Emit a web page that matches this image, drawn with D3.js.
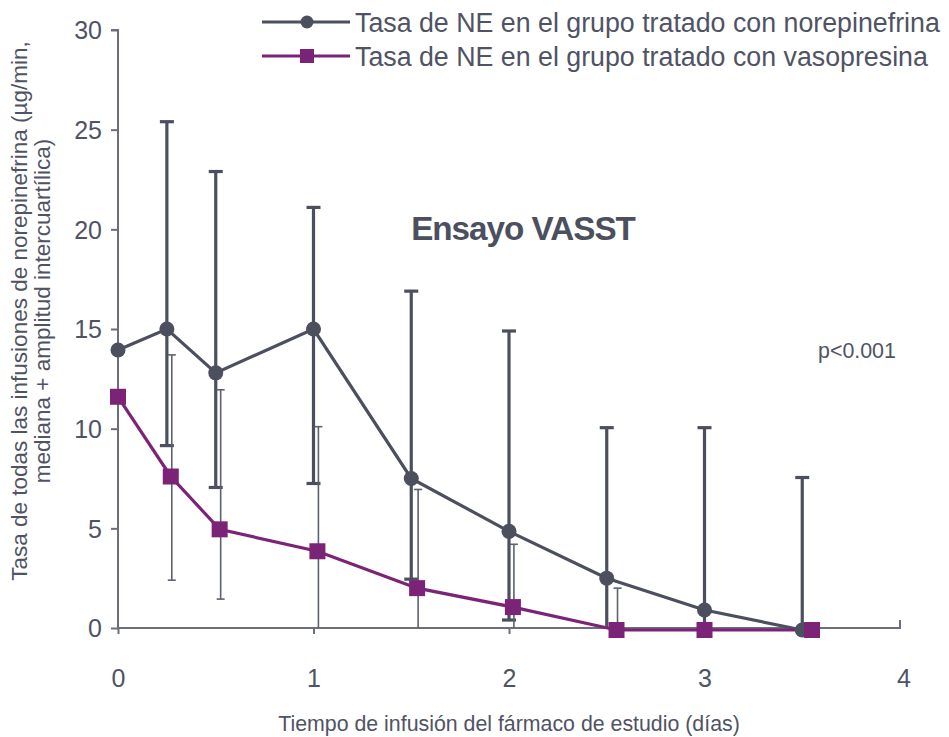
<!DOCTYPE html>
<html>
<head>
<meta charset="utf-8">
<script src="https://cdn.jsdelivr.net/npm/d3@7"></script>
<style>
  html, body { margin: 0; padding: 0; background: #fff; }
  svg { display: block; font-family: "Liberation Sans", Arial, Helvetica, sans-serif; }
</style>
</head>
<body>
<svg id="chart" width="949" height="737"></svg>
<script>
// ---- data ----
const seriesNames = ["Tasa de NE en el grupo tratado con norepinefrina", "Tasa de NE en el grupo tratado con vasopresina"];
const neDays   = [0, 0.25, 0.5, 1, 1.5, 2, 2.5, 3, 3.5];
const neMedian = [13.95, 15.0, 12.8, 15.0, 7.5, 4.85, 2.5, 0.9, -0.1];
const neQ1     = [null, 9.15, 7.05, 7.25, 2.45, 0.4, 0, 0, 0];
const neQ3     = [null, 25.4, 22.9, 21.1, 16.9, 14.9, 10.05, 10.05, 7.55];
const vaDays   = [0, 0.27, 0.52, 1.02, 1.53, 2.02, 2.55, 3.0, 3.55];
const vaMedian = [11.6, 7.6, 4.95, 3.85, 2.0, 1.05, -0.1, -0.1, -0.1];
const vaQ1     = [null, 2.4, 1.45, 0, 0, 0, 0, null, null];
const vaQ3     = [null, 13.7, 11.95, 10.1, 6.95, 4.2, 2.0, null, null];
const yTicks = [0, 5, 10, 15, 20, 25, 30];
const xTicks = [0, 1, 2, 3, 4];
const yTitle = ["Tasa de todas las infusiones de norepinefrina (µg/min,", "mediana + amplitud intercuartílica)"];
const xTitle = "Tiempo de infusión del fármaco de estudio (días)";
const chartTitle = "Ensayo VASST";
const pText = "p<0.001";

// ---- styles ----
const dark = "#4b4f5e", purple = "#7b2477", axisCol = "#6c6f7b", textCol = "#4f5364";

const svg = d3.select("#chart");
const x = d3.scaleLinear().domain([0, 4]).range([118, 900]);
const y = d3.scaleLinear().domain([0, 30]).range([628, 30]);

// fit a text element's font-size to a target width
function fit(sel, width, base) {
  sel.style("font-size", base + "px");
  const w = sel.node().getComputedTextLength();
  const fs = base * width / w;
  sel.style("font-size", fs + "px");
  return fs;
}

// axes
const yAxis = d3.axisLeft(y).tickValues(yTicks).tickSize(7).tickPadding(9);
const gy = svg.append("g").attr("transform", `translate(${x(0)},0)`).call(yAxis);
gy.select(".domain").attr("stroke", axisCol).attr("stroke-width", 2).attr("d", `M-7,${y(30)}H0V${y(0)}`);
gy.selectAll(".tick line").attr("stroke", axisCol).attr("stroke-width", 2);
gy.selectAll(".tick text").attr("fill", textCol).style("font-size", "25px").attr("dy", "0.35em");

const xAxis = d3.axisBottom(x).tickValues(xTicks.slice(0, 4)).tickSize(6).tickPadding(35).tickFormat(d3.format("d"));
const gx = svg.append("g").attr("transform", `translate(0,${y(0)})`).call(xAxis);
gx.select(".domain").attr("stroke", axisCol).attr("stroke-width", 2).attr("d", `M${x(0)},0H${x(4)}V-8`);
gx.selectAll(".tick line").attr("stroke", axisCol).attr("stroke-width", 2);
gx.selectAll(".tick text").attr("fill", textCol).style("font-size", "25px");
gx.append("text").attr("x", x(4) + 4).attr("y", 41).attr("dy", "0.71em").attr("text-anchor", "middle")
  .attr("fill", textCol).style("font-size", "25px").text(d3.format("d")(xTicks[4]));

// error bars
function errorBars(days, q1, q3, dx, width, cap, col) {
  const g = svg.append("g");
  days.forEach((d, i) => {
    if (q1[i] == null || q3[i] == null) return;
    const cx = x(d) + dx;
    g.append("line").attr("x1", cx).attr("x2", cx).attr("y1", y(q1[i])).attr("y2", y(q3[i]))
      .attr("stroke", col).attr("stroke-width", width);
    g.append("line").attr("x1", cx - cap).attr("x2", cx + cap).attr("y1", y(q3[i])).attr("y2", y(q3[i]))
      .attr("stroke", col).attr("stroke-width", width);
    if (q1[i] > 0.05)
      g.append("line").attr("x1", cx - cap).attr("x2", cx + cap).attr("y1", y(q1[i])).attr("y2", y(q1[i]))
        .attr("stroke", col).attr("stroke-width", width);
  });
}
errorBars(neDays, neQ1, neQ3, 0, 3.2, 7, dark);
errorBars(vaDays, vaQ1, vaQ3, 1, 1.6, 4, "#5d6170");

// lines
const lineNE = d3.line().x((d, i) => x(neDays[i])).y(d => y(d));
const lineVA = d3.line().x((d, i) => x(vaDays[i])).y(d => y(d));
svg.append("path").attr("d", lineNE(neMedian)).attr("fill", "none").attr("stroke", dark).attr("stroke-width", 3.2);
svg.append("path").attr("d", lineVA(vaMedian)).attr("fill", "none").attr("stroke", purple).attr("stroke-width", 3.2);

// markers
svg.append("g").selectAll("circle").data(neMedian).join("circle")
  .attr("cx", (d, i) => x(neDays[i])).attr("cy", d => y(d)).attr("r", 7.5).attr("fill", dark);
svg.append("g").selectAll("rect").data(vaMedian).join("rect")
  .attr("x", (d, i) => x(vaDays[i]) - 8).attr("y", d => y(d) - 8).attr("width", 16).attr("height", 16).attr("fill", purple);

// legend
const leg = svg.append("g");
let legFs = 22;
[[dark, "circle"], [purple, "rect"]].forEach(([col, shape], i) => {
  const ly = 22 + i * 34;
  leg.append("line").attr("x1", 262).attr("x2", 350).attr("y1", ly).attr("y2", ly).attr("stroke", col).attr("stroke-width", 3);
  if (shape === "circle") leg.append("circle").attr("cx", 307).attr("cy", ly).attr("r", 6.5).attr("fill", col);
  else leg.append("rect").attr("x", 300).attr("y", ly - 7).attr("width", 14).attr("height", 14).attr("fill", col);
  const t = leg.append("text").attr("x", 355).attr("y", ly).attr("dy", "0.36em").attr("fill", textCol)
    .text(seriesNames[i]);
  if (i === 0) legFs = fit(t, 585, 22);
  else t.style("font-size", legFs + "px");
});

// y title
const yt = svg.append("text").attr("transform", `translate(27,311) rotate(-90)`).attr("text-anchor", "middle")
  .attr("fill", textCol);
const t1 = yt.append("tspan").attr("x", 0).attr("y", 0).text(yTitle[0]);
yt.style("font-size", "17px");
const w1 = yt.node().getComputedTextLength ? t1.node().getComputedTextLength() : 400;
const yfs = 17 * 540 / w1;
yt.style("font-size", yfs + "px");
yt.append("tspan").attr("x", 0).attr("y", 23).text(yTitle[1]);

// x title
const xt = svg.append("text").attr("x", 509).attr("y", 731).attr("text-anchor", "middle").attr("fill", textCol)
  .text(xTitle);
fit(xt, 462, 17);

// chart title
const ct = svg.append("text").attr("x", 523).attr("y", 240).attr("text-anchor", "middle").attr("fill", dark)
  .style("font-weight", "bold").attr("letter-spacing", "-1").text(chartTitle);
fit(ct, 222, 29);

// p value
const pt = svg.append("text").attr("x", 818).attr("y", 358).attr("fill", textCol).text(pText);
fit(pt, 78, 17);
</script>
</body>
</html>
